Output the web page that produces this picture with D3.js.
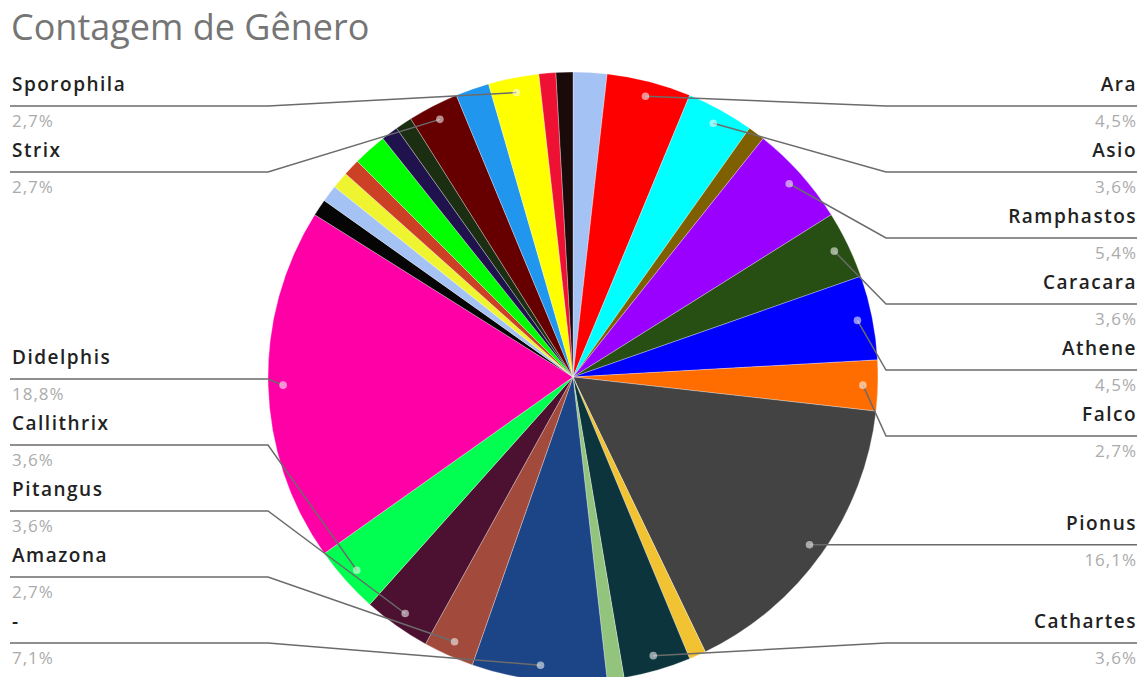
<!DOCTYPE html>
<html>
<head>
<meta charset="utf-8">
<script src="https://cdn.jsdelivr.net/npm/d3@7"></script>
<style>
  html, body { margin: 0; padding: 0; background: #fff; }
  svg { display: block; }
</style>
</head>
<body>
<svg id="chart" width="1146" height="677"></svg>
<script>
// Genus counts, clockwise from 12 o'clock; genera without a name are unlabelled slices
const generos = ["", "Ara", "Asio", "", "Ramphastos", "Caracara", "Athene", "Falco",
  "Pionus", "", "Cathartes", "", "-", "Amazona", "Pitangus", "Callithrix", "Didelphis",
  "", "", "", "", "", "", "", "Strix", "", "Sporophila", "", ""];
const contagens = [2, 5, 4, 1, 6, 4, 5, 3,
  18, 1, 4, 1, 8, 3, 4, 4, 21,
  1, 1, 1, 1, 2, 1, 1, 3, 2, 3, 1, 1];
const cores = ["#a4c2f4", "#ff0000", "#00ffff", "#7f6000", "#9900ff", "#274e13", "#0000ff", "#ff6d01",
  "#434343", "#f1c232", "#0c343d", "#93c47d", "#1c4587", "#a24b3d", "#4c1130", "#00ff50", "#ff00a6",
  "#050505", "#a4c2f4", "#eef530", "#cc4125", "#00ff00", "#20124d", "#1b2e12", "#660000", "#2196ee",
  "#ffff00", "#ee1133", "#1a0a0a"];
const titulo = "Contagem de Gênero";

const W = 1146, H = 677;
const cx = 573, cy = 377, R = 305;
const anchorR = 290;
const gap = 66;
const topY = 106, bottomY = 643;
const leftX = 10, rightX = 1137, leftElbow = 268, rightElbow = 886;

const svg = d3.select("#chart");
const total = d3.sum(contagens);
const dados = generos.map((g, i) => ({ nome: g, valor: contagens[i], cor: cores[i], i }));

const pie = d3.pie().value(d => d.valor).sort(null);
const arcs = pie(dados);
const arc = d3.arc().innerRadius(0).outerRadius(R);

const g = svg.append("g").attr("transform", `translate(${cx},${cy})`);
g.selectAll("path.fatia").data(arcs).join("path")
  .attr("class", "fatia")
  .attr("d", arc)
  .attr("fill", d => d.data.cor)
  .attr("stroke", "#ffffff")
  .attr("stroke-opacity", 0.5)
  .attr("stroke-width", 0.6);

// Title
svg.append("text")
  .attr("x", 11).attr("y", 40)
  .attr("font-family", "'Open Sans', sans-serif")
  .attr("font-size", 36)
  .attr("fill", "#757575")
  .text(titulo);

// Label anchors
const fmt = v => (v / total * 100).toFixed(1).replace(".", ",") + "%";
const rotulos = arcs.filter(a => a.data.nome !== "").map(a => {
  const mid = (a.startAngle + a.endAngle) / 2;
  return {
    nome: a.data.nome,
    pct: fmt(a.data.valor),
    ax: cx + anchorR * Math.sin(mid),
    ay: cy - anchorR * Math.cos(mid),
    lado: Math.sin(mid) >= 0 ? "dir" : "esq"
  };
});

function distribuir(lista) {
  lista.sort((a, b) => a.ay - b.ay);
  let prev = -Infinity;
  lista.forEach(l => {
    l.ly = Math.max(l.ay, topY, prev + gap);
    prev = l.ly;
  });
  let next = Infinity;
  for (let k = lista.length - 1; k >= 0; k--) {
    const l = lista[k];
    l.ly = Math.min(l.ly, bottomY, next - gap);
    next = l.ly;
  }
}
const dir = rotulos.filter(l => l.lado === "dir");
const esq = rotulos.filter(l => l.lado === "esq");
distribuir(dir);
distribuir(esq);

const lg = svg.append("g");
[...dir, ...esq].forEach(l => {
  const isDir = l.lado === "dir";
  const elbow = isDir ? rightElbow : leftElbow;
  const edge = isDir ? rightX : leftX;
  lg.append("polyline")
    .attr("points", `${l.ax},${l.ay} ${elbow},${l.ly} ${edge},${l.ly}`)
    .attr("fill", "none")
    .attr("stroke", "#6b6b6b")
    .attr("stroke-width", 1.5);
  lg.append("circle")
    .attr("cx", l.ax).attr("cy", l.ay).attr("r", 3.8)
    .attr("fill", "#ffffff").attr("fill-opacity", 0.55);
  const tx = isDir ? rightX : leftX + 2;
  const anchor = isDir ? "end" : "start";
  lg.append("text")
    .attr("x", tx).attr("y", l.ly - 15)
    .attr("text-anchor", anchor)
    .attr("font-family", "'Open Sans', sans-serif")
    .attr("font-weight", 600)
    .attr("font-size", 19)
    .attr("letter-spacing", 1.5)
    .attr("fill", "#222222")
    .text(l.nome);
  lg.append("text")
    .attr("x", tx).attr("y", l.ly + 21)
    .attr("text-anchor", anchor)
    .attr("font-family", "'Open Sans', sans-serif")
    .attr("font-size", 17)
    .attr("letter-spacing", 1)
    .attr("fill", "#ababab")
    .text(l.pct);
});
</script>
</body>
</html>
